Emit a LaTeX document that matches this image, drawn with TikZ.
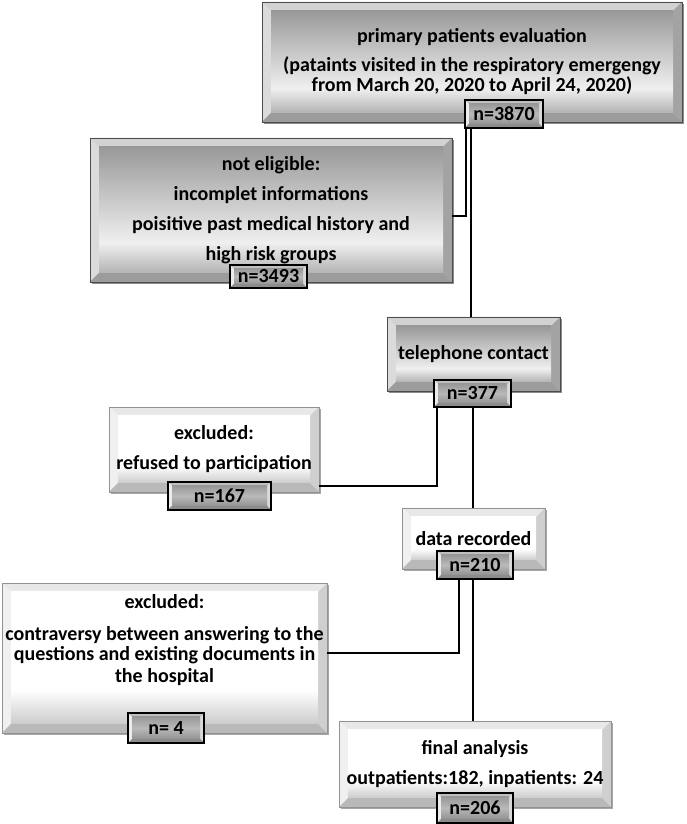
\documentclass[tikz,border=0pt]{standalone}
\usepackage{fontspec}
\setmainfont{Carlito}
\usetikzlibrary{calc,shadows}

%陰影%
\pgfdeclareverticalshading{greymetal}{100bp}{color(0bp)=(gray!60); color(25bp)=(gray!60); color(37bp)=(gray!12); color(75bp)=(gray!80); color(100bp)=(gray!80)}
\pgfdeclareverticalshading{whitemetal}{100bp}{color(0bp)=(gray!40); color(25bp)=(gray!40); color(38bp)=(white); color(75bp)=(white); color(100bp)=(white)}
\pgfdeclareverticalshading{tagmetal}{100bp}{color(0bp)=(gray!85); color(25bp)=(gray!85); color(50bp)=(gray!55); color(75bp)=(gray!80); color(100bp)=(gray!80)}

\tikzset{
  bevel/.style n args={6}{path picture={
    \coordinate (bsw) at (path picture bounding box.south west);
    \coordinate (bne) at (path picture bounding box.north east);
    \coordinate (bnw) at (bsw |- bne);
    \coordinate (bse) at (bne |- bsw);
    \fill[#2] (bnw) -- (bne) -- ($(bne)+(-#1,-#1)$) -- ($(bnw)+(#1,-#1)$) -- cycle;
    \fill[#3] (bsw) -- (bnw) -- ($(bnw)+(#1,-#1)$) -- ($(bsw)+(#1,#1)$) -- cycle;
    \fill[#4] (bse) -- (bne) -- ($(bne)+(-#1,-#1)$) -- ($(bse)+(-#1,#1)$) -- cycle;
    \fill[#5] (bsw) -- (bse) -- ($(bse)+(-#1,#1)$) -- ($(bsw)+(#1,#1)$) -- cycle;
    \shade[shading=#6] ($(bsw)+(#1,#1)$) rectangle ($(bne)+(-#1,-#1)$);
  }},
  boxfont/.style={font=\bfseries\fontsize{20}{20}\selectfont, align=center, inner sep=0pt},
  greybox/.style={boxfont, draw=gray!60!black, line width=0.8pt, fill=gray!40,
    drop shadow={shadow xshift=1.5pt, shadow yshift=-2.5pt, fill=black, opacity=0.45},
    bevel={9pt}{gray!35}{gray!28}{gray!72}{gray!78}{greymetal}},
  lightbox/.style={boxfont, draw=gray!85, line width=0.8pt, fill=white,
    drop shadow={shadow xshift=1.5pt, shadow yshift=-2.5pt, fill=black, opacity=0.35},
    bevel={9pt}{gray!18}{gray!12}{gray!38}{gray!55}{whitemetal}},
  tagbox/.style={boxfont, draw=black, line width=1.8pt, fill=gray!70,
    bevel={4pt}{gray!50}{gray!15}{gray!30}{gray!90}{tagmetal}},
  link/.style={line width=2pt}
}

\begin{document}
\begin{tikzpicture}[x=1pt,y=1pt]
\useasboundingbox (0,0) rectangle (686,824);
%一番上%
\node[greybox, minimum width=420pt, minimum height=120pt] (primary) at (472,762)
  {primary patients evaluation\\[9pt](pataints visited in the respiratory emergengy\\[0pt]from March 20, 2020 to April 24, 2020)};
\node[tagbox, minimum width=78pt, minimum height=28pt] (n3870) at (504,710) {n=3870};
%除外1%
\node[greybox, minimum width=362pt, minimum height=144pt] (noteligible) at (271,614)
  {not eligible:\\[10pt]incomplet informations\\[10pt]poisitive past medical history and\\[10pt]high risk groups};
\node[tagbox, minimum width=77pt, minimum height=23pt] (n3493) at (268.5,547.5) {n=3493};
%電話%
\node[greybox, minimum width=173pt, minimum height=74pt] (telephone) at (473.5,470) {telephone contact};
\node[tagbox, minimum width=77pt, minimum height=27pt] (n377) at (472.5,430.5) {n=377};
%除外2%
\node[lightbox, minimum width=210pt, minimum height=85pt] (refused) at (214,374.5)
  {excluded:\\[10pt]refused to participation};
\node[tagbox, minimum width=103pt, minimum height=28pt] (n167) at (219.5,328) {n=167};
%記録%
\node[lightbox, minimum width=143pt, minimum height=61pt] (datarec) at (473.5,285.5) {data recorded};
\node[tagbox, minimum width=76pt, minimum height=28pt] (n210) at (475,259) {n=210};
%除外3%
\node[lightbox, minimum width=325pt, minimum height=150pt] (contra) at (164.5,166) {};
\node[boxfont] (contratext) at (164.5,184)
  {excluded:\\[12pt]contraversy between answering to the\\questions and existing documents in\\[2pt]the hospital};
\node[tagbox, minimum width=76pt, minimum height=30pt] (n4) at (166,96) {n= 4};
%最終%
\node[lightbox, minimum width=272pt, minimum height=86pt] (final) at (475,60)
  {final analysis\\[10pt]outpatients:182, inpatients: 24};
\node[tagbox, minimum width=76pt, minimum height=30pt] (n206) at (475,16) {n=206};
%線%
\draw[link] ([xshift=2pt]n3870.south west) |- ([yshift=-6pt]noteligible.east);
\draw[link] ([xshift=6.5pt]n3870.south west) coordinate (c1) -- (c1 |- telephone.north);
\draw[link] ([xshift=4pt]n377.south west) |- ([yshift=6pt]refused.south east);
\draw[link] (n377.south) -- (n377.south |- datarec.north);
\draw[link] ([xshift=23pt]n210.south west) |- ([yshift=5pt]contra.east);
\draw[link] ([xshift=-2pt]n210.south) coordinate (c2) -- (c2 |- final.north);
\end{tikzpicture}
\end{document}
